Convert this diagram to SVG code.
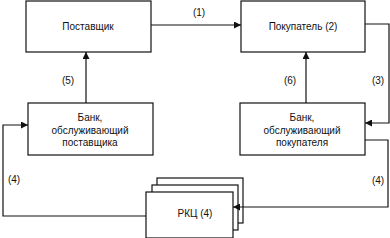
<svg xmlns="http://www.w3.org/2000/svg" width="390" height="238" viewBox="0 0 390 238">
<defs>
<style>
.box{fill:#fff;stroke:#111;stroke-width:1.2}
.ln{fill:none;stroke:#111;stroke-width:1.2}
text{font-family:"Liberation Sans",Arial,sans-serif;font-size:10px;fill:#111;text-anchor:middle}
</style>
<marker id="ah" viewBox="0 0 8 8" refX="8" refY="4" markerWidth="7" markerHeight="7" markerUnits="userSpaceOnUse" orient="auto">
<path d="M0,0 L8,4 L0,8 Z" fill="#111"/>
</marker>
</defs>
<rect width="390" height="238" fill="#fff"/>
<g id="supplier">
<rect class="box" x="26" y="1" width="125" height="51"/>
<text x="88" y="30">Поставщик</text>
</g>
<g id="buyer">
<rect class="box" x="241" y="1" width="124" height="51"/>
<text x="303" y="30">Покупатель (2)</text>
</g>
<g id="bank-supplier">
<rect class="box" x="28" y="103" width="125" height="52"/>
<text x="90" y="121">Банк,</text>
<text x="90" y="134">обслуживающий</text>
<text x="90" y="146">поставщика</text>
</g>
<g id="bank-buyer">
<rect class="box" x="240" y="103" width="125" height="52"/>
<text x="302" y="121">Банк,</text>
<text x="302" y="134">обслуживающий</text>
<text x="302" y="146">покупателя</text>
</g>
<g id="rkc">
<rect class="box" x="157" y="178" width="86" height="45"/>
<rect class="box" x="152" y="185" width="86" height="45"/>
<rect class="box" x="146" y="192" width="87" height="46"/>
<text x="195" y="217">РКЦ (4)</text>
</g>
<g id="connectors">
<line class="ln" x1="151" y1="25" x2="241" y2="25" marker-end="url(#ah)"/>
<text x="199" y="16">(1)</text>
<line class="ln" x1="86" y1="103" x2="86" y2="52" marker-end="url(#ah)"/>
<text x="68" y="84">(5)</text>
<line class="ln" x1="306" y1="103" x2="306" y2="52" marker-end="url(#ah)"/>
<text x="290" y="84">(6)</text>
<polyline class="ln" points="365,24 389,24 389,123 365,123" marker-end="url(#ah)"/>
<text x="378" y="84">(3)</text>
<polyline class="ln" points="365,140 388,140 388,207 233,207" marker-end="url(#ah)"/>
<text x="378" y="184">(4)</text>
<polyline class="ln" points="146,216 3,216 3,125 28,125" marker-end="url(#ah)"/>
<text x="14" y="183">(4)</text>
</g>
</svg>
